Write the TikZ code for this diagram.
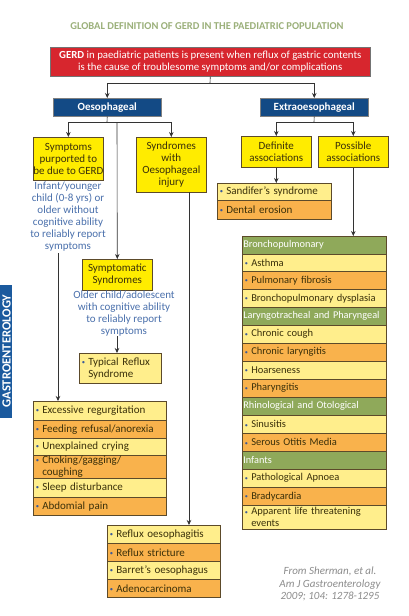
\documentclass[tikz,border=0pt]{standalone}
\usepackage{fontspec}
\setmainfont{Carlito}
\usetikzlibrary{arrows.meta}
\definecolor{titlec}{HTML}{9BB07A}
\definecolor{redc}{HTML}{D7262E}
\definecolor{bluec}{HTML}{134A85}
\definecolor{yboxc}{HTML}{FFEC00}
\definecolor{ltyel}{HTML}{FFEE8C}
\definecolor{orng}{HTML}{F9B24C}
\definecolor{grn}{HTML}{8FA95A}
\definecolor{bord}{HTML}{5C4A2A}
\definecolor{txtc}{HTML}{3A300A}
\definecolor{bltxt}{HTML}{4A70AC}
\definecolor{bulc}{HTML}{3A5A9A}
\definecolor{citec}{HTML}{8C8C8C}
\definecolor{tabc}{HTML}{1B5A9E}
\newcommand{\bul}{\makebox[6.5pt][l]{\color{bulc}\raisebox{0.8pt}{\scalebox{0.6}{\textbullet}}}}
\newcommand{\lrow}[8]{\node[row, fill=#7, minimum width=#4pt, minimum height=#6pt, text width=#5pt] (#1) at (#2,#3) {#8};}
\tikzset{
  basef/.style={inner sep=0pt, font=\fontsize{11}{12}\selectfont},
  ybx/.style={basef, draw=bord, line width=0.6pt, fill=yboxc, text=txtc, align=center, anchor=north west},
  hdr/.style={basef, draw=black!50, line width=0.5pt, fill=bluec, text=white, font=\bfseries\fontsize{11}{12}\selectfont, anchor=north west},
  row/.style={basef, draw=bord, line width=0.5pt, text=txtc, align=left, anchor=north west, inner xsep=2.5pt},
  rrow/.style={row, font=\fontsize{10.5}{12}\selectfont},
  greenrow/.style={row, fill=grn, text=white, inner xsep=1pt, minimum width=144pt, minimum height=18pt, text width=142pt, font=\fontsize{10.3}{12}\selectfont},
  arr/.style={draw=black!80, line width=0.6pt, -{Stealth[length=5pt,width=4.5pt]}},
  ln/.style={draw=black!80, line width=0.6pt},
  note/.style={basef, text=bltxt, align=center, font=\fontsize{11}{12}\selectfont},
}
\newcommand{\rrowm}[6]{\node[rrow, fill=#5, minimum width=144pt, minimum height=#4pt, text width=139pt] (#1) at (#2,#3) {#6};}
\begin{document}
\begin{tikzpicture}[x=1pt,y=-1pt]
\useasboundingbox[fill=white] (0,0) rectangle (409,616);
% tab
\begin{scope}
\clip (0,285) rectangle (12,418);
\fill[tabc] (0,285) rectangle (12,418);
\node[rotate=90, anchor=base, text=white, inner sep=0pt, font=\bfseries\fontsize{12.5}{13}\selectfont] (tab) at (10.5,351) {GASTROENTEROLOGY};
\end{scope}
% title
\node[inner sep=0pt, text=titlec, font=\bfseries\fontsize{10.5}{12}\selectfont] (title) at (207,26) {GLOBAL DEFINITION OF GERD IN THE PAEDIATRIC POPULATION};
% red box
\node[basef, draw=black!55, line width=0.6pt, fill=redc, text=white, align=center, anchor=north west, minimum width=320pt, minimum height=29pt, font=\fontsize{10.8}{12}\selectfont] (red) at (50,47) {\textbf{GERD} in paediatric patients is present when reflux of gastric contents\\is the cause of troublesome symptoms and/or complications};
% headers
\node[hdr, minimum width=108pt, minimum height=18pt] (oes) at (53,98) {Oesophageal};
\node[hdr, minimum width=108pt, minimum height=18pt] (ext) at (260,98) {Extraoesophageal};
% yellow boxes
\node[ybx, minimum width=70pt, minimum height=43pt] (sym) at (33,137) {Symptoms\\purported to\\be due to GERD};
\node[ybx, minimum width=70pt, minimum height=55pt] (syn) at (136,137) {Syndromes\\with\\Oesophageal\\injury};
\node[ybx, minimum width=70pt, minimum height=31pt] (symp) at (82,259) {Symptomatic\\Syndromes};
\node[ybx, minimum width=70pt, minimum height=31pt] (def) at (241,136) {Definite\\associations};
\node[ybx, minimum width=70pt, minimum height=31pt] (pos) at (318,136) {Possible\\associations};
% notes
\node[note] (n1) at (68,217) {Infant/younger\\child (0-8 yrs) or\\older without\\cognitive ability\\to reliably report\\symptoms};
\node[note] (n2) at (124,314) {Older child/adolescent\\with cognitive ability\\to reliably report\\symptoms};
% typical
\lrow{typ}{79}{353}{82}{77}{30}{ltyel}{\bul Typical Reflux\\\hspace*{6.5pt}Syndrome}
% left list
\lrow{lr1}{33}{401}{133}{128}{19}{ltyel}{\bul Excessive regurgitation}
\lrow{lr2}{33}{420}{133}{128}{18}{orng}{\bul Feeding refusal/anorexia}
\lrow{lr3}{33}{438}{133}{128}{17}{ltyel}{\bul Unexplained crying}
\lrow{lr4}{33}{455}{133}{128}{23}{orng}{\fontsize{11}{10.5}\selectfont\bul Choking/gagging/\\\hspace*{6.5pt}coughing}
\lrow{lr5}{33}{478}{133}{128}{19}{ltyel}{\bul Sleep disturbance}
\lrow{lr6}{33}{497}{133}{128}{18}{orng}{\bul Abdomial pain}
% bottom list
\lrow{br1}{107}{525}{113}{108}{18}{ltyel}{\bul Reflux oesophagitis}
\lrow{br2}{107}{543}{113}{108}{18}{orng}{\bul Reflux stricture}
\lrow{br3}{107}{561}{113}{108}{18}{ltyel}{\bul Barret’s oesophagus}
\lrow{br4}{107}{579}{113}{108}{18}{orng}{\bul Adenocarcinoma}
% sandifer
\lrow{sr1}{217}{183}{114}{109}{17}{ltyel}{\bul Sandifer’s syndrome}
\lrow{sr2}{217}{200}{114}{109}{19}{orng}{\bul Dental erosion}
% big right
\node[greenrow] (g1) at (242,236) {\mbox{Bronchopulmonary}};
\rrowm{r1}{242}{254}{17}{ltyel}{\bul Asthma}
\rrowm{r2}{242}{271}{18}{orng}{\bul Pulmonary fibrosis}
\rrowm{r3}{242}{289}{18}{ltyel}{\bul Bronchopulmonary dysplasia}
\node[greenrow] (g2) at (242,307) {\mbox{Laryngotracheal and Pharyngeal}};
\rrowm{r4}{242}{325}{18}{ltyel}{\bul Chronic cough}
\rrowm{r5}{242}{343}{18}{orng}{\bul Chronic laryngitis}
\rrowm{r6}{242}{361}{18}{ltyel}{\bul Hoarseness}
\rrowm{r7}{242}{379}{18}{orng}{\bul Pharyngitis}
\node[greenrow] (g3) at (242,397) {\mbox{Rhinological and Otological}};
\rrowm{r8}{242}{415}{18}{ltyel}{\bul Sinusitis}
\rrowm{r9}{242}{433}{18}{orng}{\bul Serous Otitis Media}
\node[greenrow] (g4) at (242,451) {\mbox{Infants}};
\rrowm{r10}{242}{469}{18}{ltyel}{\bul Pathological Apnoea}
\rrowm{r11}{242}{487}{18}{orng}{\bul Bradycardia}
\rrowm{r12}{242}{505}{24}{ltyel}{\fontsize{10.5}{10.5}\selectfont\bul Apparent life threatening\\\hspace*{6.5pt}events}
% citation
\node[inner sep=0pt, text=citec, align=center, font=\itshape\fontsize{11}{12.5}\selectfont] (cite) at (330,584) {From Sherman, et al.\\Am J Gastroenterology\\2009; 104: 1278-1295};
% connectors
\coordinate (j0) at (210,83);
\draw[ln] (red.south) -- (j0);
\draw[arr] (j0) -| (oes.north);
\draw[arr] (j0) -| (ext.north);
\coordinate (j1) at (107,122);
\draw[ln] (oes.south) -- (j1);
\draw[arr] (j1) -| (sym.north);
\draw[arr] (j1) -| (syn.north);
\coordinate (j1b) at (117,122);
\draw[arr] (j1b) -- (symp.north);
\coordinate (c1) at (58,253);
\draw[arr] (c1) -- (c1 |- lr1.north);
\coordinate (c2) at (189,192);
\draw[arr] (c2) -- (c2 |- br1.north);
\coordinate (c3) at (117,336);
\draw[arr] (c3) -- (c3 |- typ.north);
\coordinate (j2) at (314,122);
\draw[ln] (ext.south) -- (j2);
\draw[arr] (j2) -| (def.north);
\draw[arr] (j2) -| (pos.north);
\draw[arr] (def.south) -- (def.south |- sr1.north);
\draw[arr] (pos.south) -- (pos.south |- g1.north);
\end{tikzpicture}
\end{document}
